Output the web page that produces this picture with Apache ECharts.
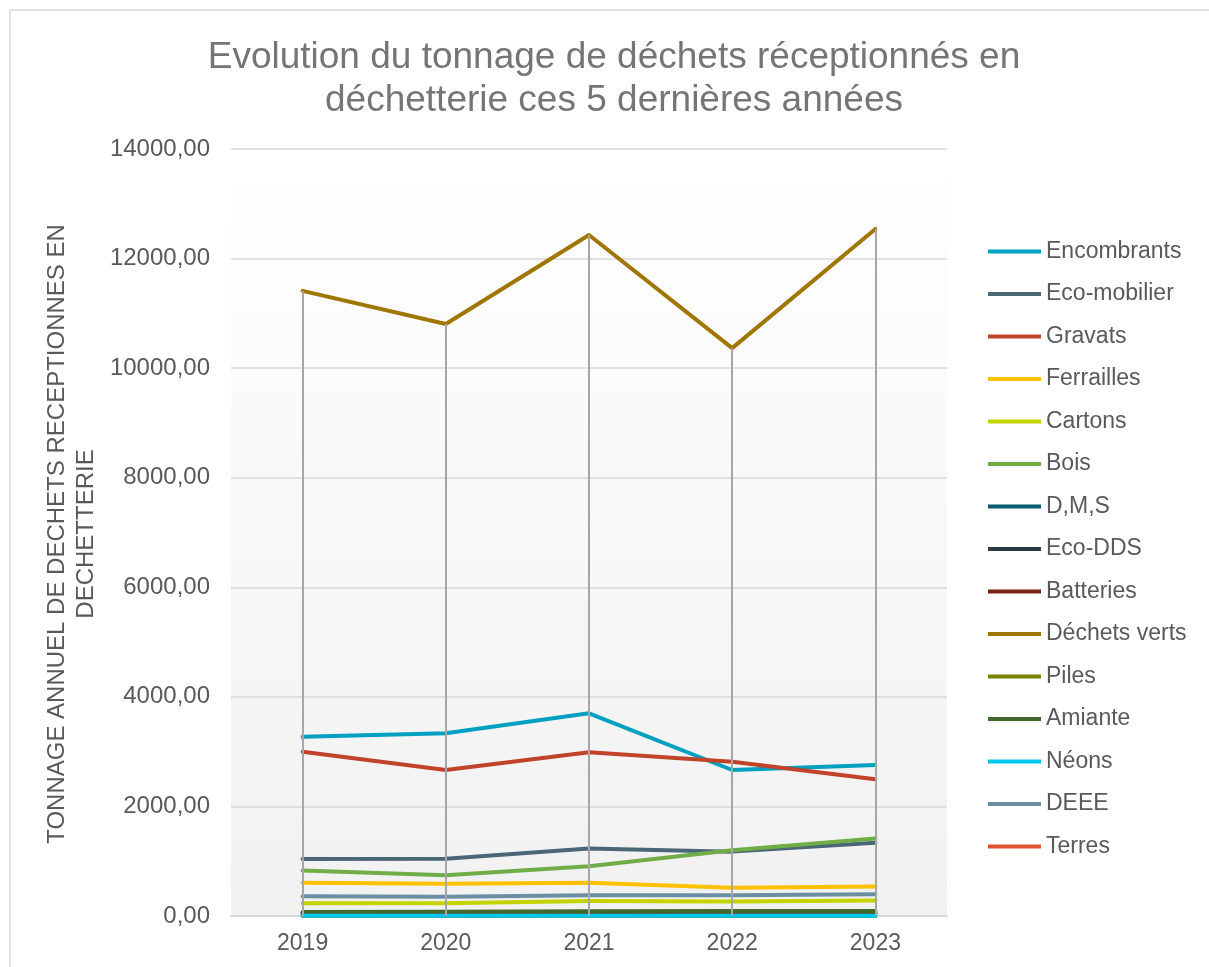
<!DOCTYPE html>
<html lang="fr">
<head>
<meta charset="utf-8">
<title>Evolution du tonnage de déchets réceptionnés en déchetterie</title>
<script src="https://cdn.jsdelivr.net/npm/echarts@6/dist/echarts.min.js"></script>
<style>
  html, body { margin: 0; padding: 0; background: #ffffff; }
  #chart { width: 1209px; height: 967px; }
</style>
</head>
<body>
<div id="chart"></div>
<script>
// Années et tonnages annuels par flux
const years = ['2019', '2020', '2021', '2022', '2023'];

const encombrants   = [3270, 3335, 3700, 2665, 2755];
const ecoMobilier   = [1040, 1045, 1230, 1175, 1335];
const gravats       = [3000, 2665, 2990, 2815, 2495];
const ferrailles    = [605, 590, 605, 515, 540];
const cartons       = [235, 235, 275, 265, 285];
const bois          = [830, 745, 910, 1200, 1415];
const dms           = [60, 55, 60, 65, 65];
const ecoDds        = [40, 45, 50, 50, 50];
const batteries     = [10, 8, 9, 8, 8];
const dechetsVerts  = [11410, 10805, 12430, 10365, 12540];
const piles         = [3, 3, 3, 3, 3];
const amiante       = [75, 78, 85, 92, 90];
const neons         = [5, 5, 5, 5, 5];
const deee          = [360, 350, 380, 380, 395];
const terres        = [null, null, null, null, null];

const yTicks = { min: 0, max: 14000, interval: 2000 };

const flux = [
  { name: 'Encombrants',   data: encombrants,  color: '#00a0c1' },
  { name: 'Eco-mobilier',  data: ecoMobilier,  color: '#4a6677' },
  { name: 'Gravats',       data: gravats,      color: '#c0432a' },
  { name: 'Ferrailles',    data: ferrailles,   color: '#ffc000' },
  { name: 'Cartons',       data: cartons,      color: '#c4d400' },
  { name: 'Bois',          data: bois,         color: '#70ad47' },
  { name: 'D,M,S',         data: dms,          color: '#075b73' },
  { name: 'Eco-DDS',       data: ecoDds,       color: '#2b3a44' },
  { name: 'Batteries',     data: batteries,    color: '#7a2514' },
  { name: 'Déchets verts', data: dechetsVerts, color: '#9e7600' },
  { name: 'Piles',         data: piles,        color: '#7a8000' },
  { name: 'Amiante',       data: amiante,      color: '#43682b' },
  { name: 'Néons',         data: neons,        color: '#00c8f0' },
  { name: 'DEEE',          data: deee,         color: '#6a8fa3' },
  { name: 'Terres',        data: terres,       color: '#e0522f' }
];

const FONT = '"Liberation Sans", Arial, sans-serif';
const TEXT_COLOR = '#595959';

// Lignes de rappel verticales : de chaque point du flux le plus haut jusqu'à l'axe
const dropLines = dechetsVerts.map((v, i) => [
  { coord: [i, v] },
  { coord: [i, 0] }
]);

const series = flux.map(f => {
  const s = {
    name: f.name,
    type: 'line',
    data: f.data,
    showSymbol: false,
    symbol: 'none',
    smooth: false,
    connectNulls: false,
    color: f.color,
    lineStyle: { color: f.color, width: 4, cap: 'round', join: 'round' },
    emphasis: { disabled: true },
    animation: false,
    z: 2
  };
  if (f.name === 'Déchets verts') {
    s.z = 3;
    s.markLine = {
      silent: true,
      symbol: ['none', 'none'],
      label: { show: false },
      lineStyle: { color: '#a6a6a6', width: 2, type: 'solid' },
      emphasis: { disabled: true },
      animation: false,
      data: dropLines
    };
  }
  return s;
});

const chart = echarts.init(document.getElementById('chart'), null, { renderer: 'canvas' });

chart.setOption({
  backgroundColor: '#ffffff',
  animation: false,
  title: {
    text: 'Evolution du tonnage de déchets réceptionnés en\ndéchetterie ces 5 dernières années',
    left: 614,
    top: 36,
    padding: 0,
    textAlign: 'center',
    textStyle: {
      fontFamily: FONT,
      fontSize: 37,
      fontWeight: 'normal',
      color: '#757575',
      lineHeight: 43
    }
  },
  grid: {
    left: 231,
    right: 262,
    top: 149,
    bottom: 51,
    show: true,
    borderWidth: 0,
    backgroundColor: {
      type: 'linear', x: 0, y: 0, x2: 0, y2: 1,
      colorStops: [
        { offset: 0, color: '#ffffff' },
        { offset: 1, color: '#f1f1f1' }
      ]
    }
  },
  legend: {
    orient: 'vertical',
    left: 988,
    top: 240,
    padding: 0,
    icon: 'rect',
    itemWidth: 53,
    itemHeight: 4,
    itemGap: 19.5,
    itemTextGap: 6,
    selectedMode: false,
    textStyle: {
      fontFamily: FONT,
      fontSize: 23,
      color: TEXT_COLOR,
      lineHeight: 23
    },
    data: flux.map(f => ({ name: f.name, itemStyle: { color: f.color } }))
  },
  xAxis: {
    type: 'category',
    data: years,
    boundaryGap: true,
    axisLine: { show: true, lineStyle: { color: '#d9d9d9', width: 2 } },
    axisTick: { show: false },
    splitLine: { show: false },
    axisLabel: {
      fontFamily: FONT,
      fontSize: 23,
      color: TEXT_COLOR,
      margin: 16
    }
  },
  yAxis: {
    type: 'value',
    min: yTicks.min,
    max: yTicks.max,
    interval: yTicks.interval,
    axisLine: { show: false },
    axisTick: { show: false },
    splitLine: { show: true, lineStyle: { color: '#d9d9d9', width: 1.5 } },
    axisLabel: {
      fontFamily: FONT,
      fontSize: 24,
      color: TEXT_COLOR,
      margin: 21,
      formatter: v => v.toFixed(2).replace('.', ',')
    }
  },
  graphic: [
    {
      // cadre de la zone de graphique
      type: 'rect',
      silent: true,
      z: -10,
      shape: { x: 10, y: 10, width: 1240, height: 1000 },
      style: { fill: 'none', stroke: '#d9d9d9', lineWidth: 1.5 }
    },
    {
      // titre de l'axe vertical
      type: 'text',
      silent: true,
      x: 72,
      y: 534,
      rotation: Math.PI / 2,
      style: {
        text: 'TONNAGE ANNUEL DE DECHETS RECEPTIONNES EN\nDECHETTERIE',
        fontFamily: FONT,
        fontSize: 24,
        lineHeight: 29,
        fill: TEXT_COLOR,
        align: 'center',
        verticalAlign: 'middle'
      }
    }
  ],
  series: series
});
</script>
</body>
</html>
